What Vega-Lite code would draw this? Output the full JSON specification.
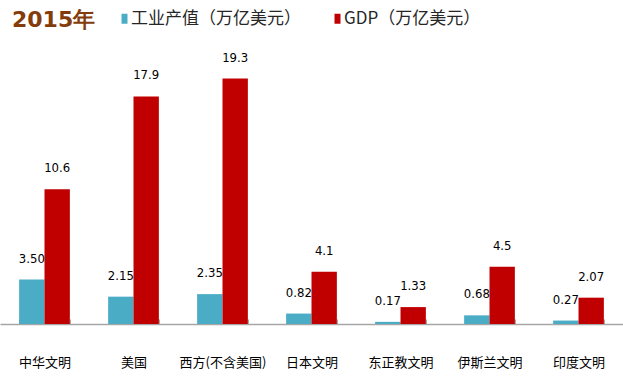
{
  "$schema": "https://vega.github.io/schema/vega-lite/v6.json",
  "autosize": {"type": "none"},
  "width": 623,
  "height": 267,
  "padding": {"left": 0, "right": 0, "top": 57, "bottom": 55},
  "background": "white",
  "config": {"view": {"stroke": null}},
  "title": {
    "text": "2015年",
    "anchor": "start",
    "frame": "group",
    "orient": "top",
    "offset": -39,
    "baseline": "alphabetic",
    "dx": 12,
    "font": "DejaVu Sans",
    "fontSize": 22,
    "fontWeight": "bold",
    "color": "#843C0C"
  },
  "data": {
    "values": [
      {"civ": "中华文明", "series": "工业产值（万亿美元）", "value": 3.50, "label": "3.50"},
      {"civ": "中华文明", "series": "GDP（万亿美元）", "value": 10.6, "label": "10.6"},
      {"civ": "美国", "series": "工业产值（万亿美元）", "value": 2.15, "label": "2.15"},
      {"civ": "美国", "series": "GDP（万亿美元）", "value": 17.9, "label": "17.9"},
      {"civ": "西方(不含美国)", "series": "工业产值（万亿美元）", "value": 2.35, "label": "2.35"},
      {"civ": "西方(不含美国)", "series": "GDP（万亿美元）", "value": 19.3, "label": "19.3"},
      {"civ": "日本文明", "series": "工业产值（万亿美元）", "value": 0.82, "label": "0.82"},
      {"civ": "日本文明", "series": "GDP（万亿美元）", "value": 4.1, "label": "4.1"},
      {"civ": "东正教文明", "series": "工业产值（万亿美元）", "value": 0.17, "label": "0.17"},
      {"civ": "东正教文明", "series": "GDP（万亿美元）", "value": 1.33, "label": "1.33"},
      {"civ": "伊斯兰文明", "series": "工业产值（万亿美元）", "value": 0.68, "label": "0.68"},
      {"civ": "伊斯兰文明", "series": "GDP（万亿美元）", "value": 4.5, "label": "4.5"},
      {"civ": "印度文明", "series": "工业产值（万亿美元）", "value": 0.27, "label": "0.27"},
      {"civ": "印度文明", "series": "GDP（万亿美元）", "value": 2.07, "label": "2.07"}
    ]
  },
  "encoding": {
    "x": {
      "field": "civ",
      "type": "nominal",
      "sort": null,
      "scale": {"paddingInner": 0.43, "paddingOuter": 0.215},
      "axis": {
        "title": null,
        "labelAngle": 0,
        "labelFont": "Noto Sans CJK SC",
        "labelFontSize": 13,
        "labelColor": "#000000",
        "labelPadding": 37,
        "domainColor": "#A6A6A6",
        "domainWidth": 1.5,
        "tickColor": "#A6A6A6",
        "tickWidth": 1,
        "tickSize": -5,
        "tickBand": "extent"
      }
    },
    "xOffset": {
      "field": "series",
      "type": "nominal",
      "sort": ["工业产值（万亿美元）", "GDP（万亿美元）"],
      "scale": {"paddingInner": 0, "paddingOuter": 0}
    },
    "y": {
      "field": "value",
      "type": "quantitative",
      "scale": {"domain": [0, 21], "nice": false},
      "axis": null
    }
  },
  "layer": [
    {
      "mark": {"type": "bar"},
      "encoding": {
        "color": {
          "field": "series",
          "type": "nominal",
          "sort": ["工业产值（万亿美元）", "GDP（万亿美元）"],
          "scale": {"domain": ["工业产值（万亿美元）", "GDP（万亿美元）"], "range": ["#4BACC6", "#C00000"]},
          "legend": {
            "title": null,
            "orient": "none",
            "direction": "horizontal",
            "legendX": 116,
            "legendY": -47,
            "symbolType": "M-0.6,-1H0.6V1H-0.6Z",
            "symbolSize": 100,
            "symbolStrokeWidth": 0,
            "labelFont": "Noto Sans CJK SC",
            "labelFontSize": 17,
            "labelColor": "#262626",
            "labelOffset": -2,
            "columnPadding": 28,
            "labelLimit": 300
          }
        }
      }
    },
    {
      "mark": {
        "type": "text",
        "baseline": "alphabetic",
        "dy": -17,
        "font": "DejaVu Sans Condensed, Liberation Sans, sans-serif",
        "fontSize": 13,
        "color": "#000000"
      },
      "encoding": {"text": {"field": "label"}}
    }
  ]
}
